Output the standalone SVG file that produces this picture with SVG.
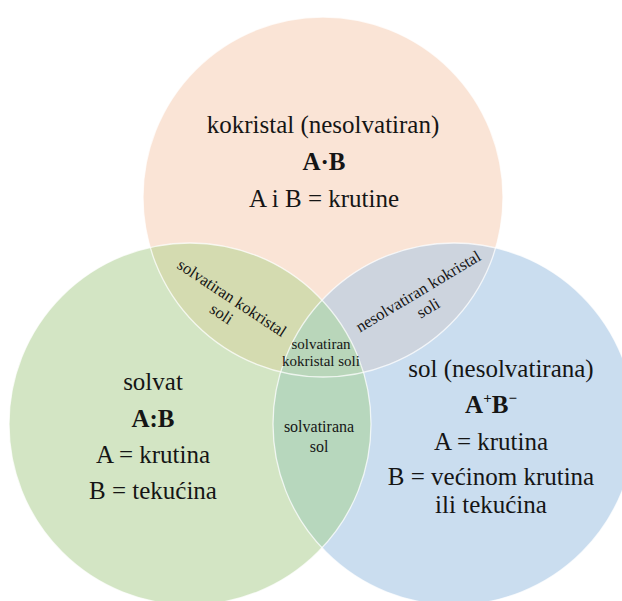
<svg xmlns="http://www.w3.org/2000/svg" width="622" height="601" viewBox="0 0 622 601">
<style>
text, tspan{font-family:'Liberation Serif',serif !important;fill:#151515;text-anchor:middle}
.big{font-size:25px}
.b{font-weight:bold}
.mid{font-size:15px}
.rot{font-size:16.5px}
.edge{fill:none;stroke:#ffffff;stroke-width:1.3;stroke-opacity:0.75}
</style>
<defs>
<circle id="cT" cx="323" cy="197" r="180"/>
<circle id="cL" cx="190" cy="424" r="181"/>
<circle id="cR" cx="454" cy="424" r="181"/>
<clipPath id="clipL"><use href="#cL"/></clipPath>
<clipPath id="clipR"><use href="#cR"/></clipPath>
</defs>

<g id="regions">
<use href="#cT" fill="#FAE4D6"/>
<use href="#cL" fill="#D3E5C4"/>
<use href="#cR" fill="#CADDEF"/>
<g clip-path="url(#clipL)"><use href="#cT" fill="#D4DBB0"/></g>
<g clip-path="url(#clipR)"><use href="#cT" fill="#CDD4DE"/></g>
<g clip-path="url(#clipR)"><use href="#cL" fill="#B7D7BD"/></g>
<g clip-path="url(#clipR)"><g clip-path="url(#clipL)"><use href="#cT" fill="#B9D6BA"/></g></g>
<use href="#cT" class="edge"/>
<use href="#cR" class="edge"/>
<use href="#cL" class="edge"/>
</g>

<g id="labels" font-family="Liberation Serif">
<g id="set-kokristal">
<text class="big" x="323" y="133" style="font-family:'Liberation Serif',serif">kokristal (nesolvatiran)</text>
<text class="big b" x="324" y="170" style="font-family:'Liberation Serif',serif">A·B</text>
<text class="big" x="324" y="207" style="font-family:'Liberation Serif',serif">A i B = krutine</text>
</g>

<g id="set-solvat">
<text class="big" x="153" y="390" style="font-family:'Liberation Serif',serif">solvat</text>
<text class="big b" x="153" y="427" style="font-family:'Liberation Serif',serif">A:B</text>
<text class="big" x="153" y="463" style="font-family:'Liberation Serif',serif">A = krutina</text>
<text class="big" x="153" y="499" style="font-family:'Liberation Serif',serif">B = tekućina</text>
</g>

<g id="set-sol">
<text class="big" x="501" y="377" style="font-family:'Liberation Serif',serif">sol (nesolvatirana)</text>
<text class="big b" x="491" y="413" style="font-family:'Liberation Serif',serif">A<tspan font-size="15" dy="-10">+</tspan><tspan dy="10">B</tspan><tspan font-size="15" dy="-10">−</tspan></text>
<text class="big" x="491" y="450" style="font-family:'Liberation Serif',serif">A = krutina</text>
<text class="big" x="491" y="485" style="font-family:'Liberation Serif',serif">B = većinom krutina</text>
<text class="big" x="491" y="513" style="font-family:'Liberation Serif',serif">ili tekućina</text>
</g>

<g id="overlap-solvatiran-kokristal-soli-2">
<g transform="translate(229,302.5) rotate(33.5)">
<text class="rot" x="0" y="0" style="font-family:'Liberation Serif',serif">solvatiran kokristal</text>
<text class="rot" x="0" y="19" style="font-family:'Liberation Serif',serif">soli</text>
</g>
</g>

<g id="overlap-nesolvatiran-kokristal-soli">
<g transform="translate(421,296) rotate(-31)">
<text class="rot" x="0" y="0" style="font-family:'Liberation Serif',serif">nesolvatiran kokristal</text>
<text class="rot" x="0" y="19.5" style="font-family:'Liberation Serif',serif">soli</text>
</g>
</g>

<g id="overlap-solvatirana-sol">
<text x="319" y="432" style="font-size:16px;font-family:'Liberation Serif',serif">solvatirana</text>
<text x="319" y="452" style="font-size:16px;font-family:'Liberation Serif',serif">sol</text>
</g>

<g id="overlap-solvatiran-kokristal-soli">
<text class="mid" x="321" y="349" style="font-family:'Liberation Serif',serif">solvatiran</text>
<text class="mid" x="321" y="366" style="font-family:'Liberation Serif',serif">kokristal soli</text>
</g>
</g>
</svg>
